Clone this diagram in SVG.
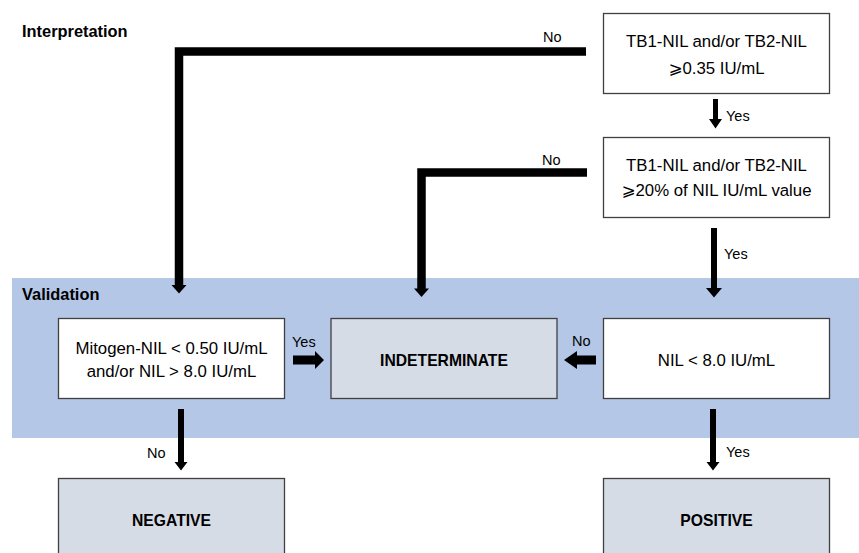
<svg xmlns="http://www.w3.org/2000/svg" width="859" height="553" viewBox="0 0 859 553">
  <style>
    text { font-family: "Liberation Sans", "DejaVu Sans", Arial, sans-serif; fill: #000; }
    .box { fill: #ffffff; stroke: #404040; stroke-width: 1.3; }
    .res { fill: #d6dce5; stroke: #404040; stroke-width: 1.3; }
    .t { font-size: 16.8px; text-anchor: middle; }
    .b { font-size: 15.7px; font-weight: bold; text-anchor: middle; }
    .h { font-size: 16.4px; font-weight: bold; }
    .lbl { font-size: 14.5px; }
    .line { fill: none; stroke: #000; stroke-width: 8.5; stroke-linejoin: miter; stroke-linecap: butt; }
    .arr { fill: #000; stroke: none; }
  </style>
  <rect id="validation-band" x="12" y="278" width="847" height="160" fill="#b4c7e7"/>
  <text class="h" x="22" y="37">Interpretation</text>
  <text class="h" x="22" y="300">Validation</text>

  <g id="connectors">
    <!-- No from box1 to mitogen -->
    <polyline class="line" points="586,51.5 179,51.5 179,286"/>
    <polygon class="arr" points="171.5,285 186.5,285 179,293.5"/>
    <text class="lbl" x="543" y="42">No</text>
    <!-- No from box2 to indeterminate -->
    <polyline class="line" points="587,172.5 421.5,172.5 421.5,289"/>
    <polygon class="arr" points="414,288.5 429,288.5 421.5,297"/>
    <text class="lbl" x="542" y="165">No</text>
    <!-- Yes box1 -> box2 -->
    <polygon class="arr" points="713,99 718,99 718,119 722,119 715.5,128.5 709,119 713,119"/>
    <text class="lbl" x="726" y="121">Yes</text>
    <!-- Yes box2 -> NIL -->
    <polygon class="arr" points="711,228 717,228 717,288 722,288 714,297.5 706,288 711,288"/>
    <text class="lbl" x="724" y="259">Yes</text>
    <!-- Yes mitogen -> indeterminate -->
    <polygon class="arr" points="293,355.5 315,355.5 315,351 324,360 315,369 315,364.5 293,364.5"/>
    <text class="lbl" x="292" y="347">Yes</text>
    <!-- No NIL -> indeterminate -->
    <polygon class="arr" points="596,355.5 577,355.5 577,351 564,360 577,369 577,364.5 596,364.5"/>
    <text class="lbl" x="572" y="346">No</text>
    <!-- No mitogen -> negative -->
    <polygon class="arr" points="178,409 184,409 184,462 187.5,462 181,470.5 174.5,462 178,462"/>
    <text class="lbl" x="147" y="458">No</text>
    <!-- Yes NIL -> positive -->
    <polygon class="arr" points="710,409 716,409 716,462 719.5,462 713,470.5 706.5,462 710,462"/>
    <text class="lbl" x="726" y="457">Yes</text>
  </g>

  <g id="box-tb-035">
    <rect class="box" x="603.5" y="13.5" width="226" height="80"/>
    <text class="t" x="716.5" y="47">TB1-NIL and/or TB2-NIL</text>
    <text class="t" x="716.5" y="74">⩾0.35 IU/mL</text>
  </g>
  <g id="box-tb-20pct">
    <rect class="box" x="603.5" y="137.5" width="226" height="80"/>
    <text class="t" x="716.5" y="171">TB1-NIL and/or TB2-NIL</text>
    <text class="t" x="716.5" y="196">⩾20% of NIL IU/mL value</text>
  </g>
  <g id="box-mitogen">
    <rect class="box" x="58.5" y="318.5" width="226" height="80"/>
    <text class="t" x="171.5" y="354">Mitogen-NIL &lt; 0.50 IU/mL</text>
    <text class="t" x="171.5" y="377">and/or NIL &gt; 8.0 IU/mL</text>
  </g>
  <g id="box-indeterminate">
    <rect class="res" x="331" y="318.5" width="226" height="80"/>
    <text class="b" x="444" y="366">INDETERMINATE</text>
  </g>
  <g id="box-nil">
    <rect class="box" x="603.5" y="318.5" width="226" height="80"/>
    <text class="t" x="716.5" y="366">NIL &lt; 8.0 IU/mL</text>
  </g>
  <g id="box-negative">
    <rect class="res" x="58.5" y="478.5" width="226" height="90"/>
    <text class="b" x="171.5" y="526">NEGATIVE</text>
  </g>
  <g id="box-positive">
    <rect class="res" x="603.5" y="478.5" width="226" height="90"/>
    <text class="b" x="716.5" y="526">POSITIVE</text>
  </g>
</svg>
